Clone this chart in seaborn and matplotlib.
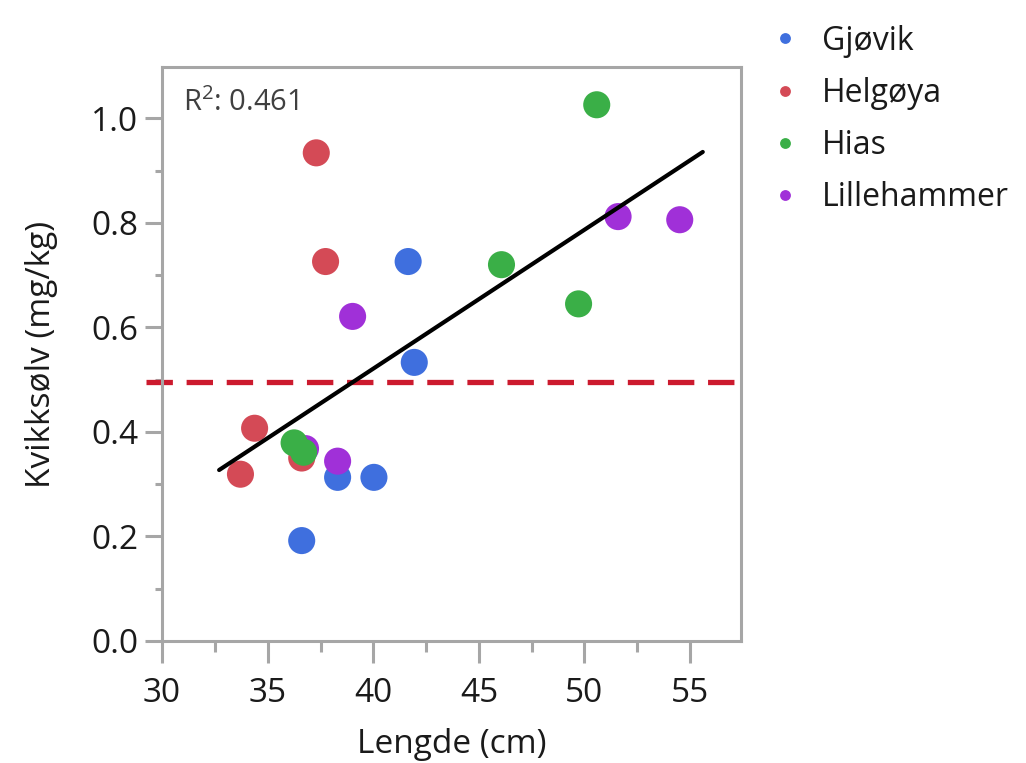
import numpy as np
import pandas as pd
import matplotlib
matplotlib.use("Agg")
import matplotlib.pyplot as plt
import seaborn as sns

# ---- data ----
groups = ["Gjøvik", "Helgøya", "Hias", "Lillehammer"]
colors = ["#3f6fde", "#d44a56", "#3aaf47", "#a030d8"]

gjovik_len = [41.65, 41.94, 38.31, 40.03, 36.61]
gjovik_hg = [0.726, 0.533, 0.313, 0.313, 0.192]
helgoya_len = [37.30, 37.74, 34.38, 33.71, 36.61]
helgoya_hg = [0.934, 0.726, 0.407, 0.319, 0.350]
lille_len = [51.59, 54.51, 39.02, 38.31, 36.79]
lille_hg = [0.812, 0.806, 0.621, 0.344, 0.368]
hias_len = [50.58, 46.07, 49.72, 36.25, 36.70]
hias_hg = [1.026, 0.720, 0.645, 0.379, 0.361]

limit_value = 0.495
fit_x_range = [32.7, 55.6]
r2_text = "R$^2$: 0.461"

x_ticks = [30, 35, 40, 45, 50, 55]
y_ticks = [0.0, 0.2, 0.4, 0.6, 0.8, 1.0]

df = pd.DataFrame({
    "Lengde": gjovik_len + helgoya_len + lille_len + hias_len,
    "Hg": gjovik_hg + helgoya_hg + lille_hg + hias_hg,
    "Lokalitet": ["Gjøvik"] * 5 + ["Helgøya"] * 5 + ["Lillehammer"] * 5 + ["Hias"] * 5,
})

sns.set_theme(style="white")
plt.rcParams["font.family"] = ["Open Sans", "DejaVu Sans"]
plt.rcParams["mathtext.fontset"] = "custom"
plt.rcParams["mathtext.rm"] = "Open Sans"
plt.rcParams["mathtext.it"] = "Open Sans"

FS = 24
txt_col = "#1a1a1a"

fig = plt.figure(figsize=(10.26, 7.63), dpi=100)
ax = fig.add_axes([0.158, 0.160, 0.564, 0.752])

palette = dict(zip(groups, colors))
sns.scatterplot(data=df, x="Lengde", y="Hg", hue="Lokalitet", hue_order=groups,
                palette=palette, s=380, edgecolor="none", linewidth=0, alpha=1.0,
                ax=ax, zorder=3)

# regression fit
slope, intercept = np.polyfit(df["Lengde"], df["Hg"], 1)
fx = np.array(fit_x_range)
sns.lineplot(x=fx, y=slope * fx + intercept, color="black", linewidth=3.0, ax=ax,
             zorder=4, legend=False)

ax.axhline(limit_value, xmin=-0.027, xmax=1, color="#cc1a2e", linewidth=3.8,
           dashes=(5, 2.6), clip_on=False, zorder=2)

ax.set_xlim(30, 57.4)
ax.set_ylim(0, 1.098)
ax.set_xticks(x_ticks)
ax.set_xticklabels([str(t) for t in x_ticks])
ax.set_yticks(y_ticks)
ax.set_yticklabels([f"{t:.1f}" for t in y_ticks])
ax.set_xticks(np.arange(32.5, 57.5, 5), minor=True)
ax.set_yticks(np.arange(0.1, 1.1, 0.2), minor=True)

spine_col = "#a6a6a6"
for sp in ax.spines.values():
    sp.set_color(spine_col)
    sp.set_linewidth(2.2)
ax.tick_params(axis="both", which="major", direction="out", color=spine_col, width=2.2,
               labelsize=FS, labelcolor=txt_col)
ax.tick_params(axis="x", which="major", length=16, bottom=True, pad=10)
ax.tick_params(axis="y", which="major", length=12, left=True, pad=5)
ax.tick_params(axis="x", which="minor", length=8, width=2.2, color=spine_col, bottom=True)
ax.tick_params(axis="y", which="minor", length=5, width=2.2, color=spine_col, left=True)

ax.set_xlabel("Lengde (cm)", fontsize=FS, color=txt_col, labelpad=13)
ax.set_ylabel("Kvikksølv (mg/kg)", fontsize=FS, color=txt_col, labelpad=24)

ax.text(0.036, 0.937, r2_text, transform=ax.transAxes, fontsize=21, color="#404040",
        ha="left", va="center")

leg = ax.legend(loc="upper left", bbox_to_anchor=(0.728, 0.997),
                bbox_transform=fig.transFigure, frameon=False, fontsize=23,
                markerscale=0.4, handlelength=1.0, handletextpad=0.65,
                labelspacing=0.6, borderpad=0.2, title=None)
for t in leg.get_texts():
    t.set_color(txt_col)

fig.savefig("out.png", dpi=100)
